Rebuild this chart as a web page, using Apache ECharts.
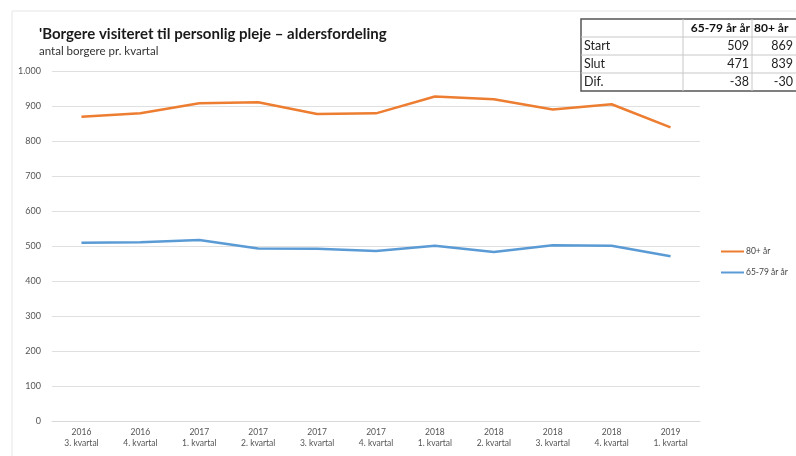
<!DOCTYPE html>
<html><head><meta charset="utf-8">
<script src="https://cdn.jsdelivr.net/npm/echarts@6/dist/echarts.min.js"></script>
<style>html,body{margin:0;padding:0;background:#fff}#c{width:796px;height:456px}</style>
</head><body><div id="c"></div>
<script>
var categories = ['2016\n3. kvartal','2016\n4. kvartal','2017\n1. kvartal','2017\n2. kvartal','2017\n3. kvartal','2017\n4. kvartal','2018\n1. kvartal','2018\n2. kvartal','2018\n3. kvartal','2018\n4. kvartal','2019\n1. kvartal'];
var series80 = [869, 879, 908, 911, 877, 879, 927, 919, 890, 905, 839];
var series65 = [509, 511, 517, 493, 492, 486, 501, 483, 502, 501, 471];
var tableHeader = ['', '65-79 år år', '80+ år'];
var tableRows = [['Start', '509', '869'], ['Slut', '471', '839'], ['Dif.', '-38', '-30']];

var FONT = 'Lato, "Open Sans", sans-serif';
var chart = echarts.init(document.getElementById('c'), null, {renderer:'canvas'});

var g = [];
// outer faint frame
g.push({type:'rect', shape:{x:12, y:11, width:800, height:460}, style:{fill:'none', stroke:'#e6e6e6', lineWidth:1}, silent:true});
// table
var tx = 581, ty = 19, rowH = 18, colX = [581, 683, 752, 812];
var nRows = tableRows.length + 1;
g.push({type:'rect', shape:{x:tx, y:ty, width:colX[3]-tx, height:rowH*nRows}, style:{fill:'#fff', stroke:'#555', lineWidth:1.5}, z:10});
for (var r=1; r<nRows; r++) {
  g.push({type:'line', shape:{x1:tx, y1:ty+r*rowH, x2:colX[3], y2:ty+r*rowH}, style:{stroke:'#c8c8c8', lineWidth:1}, z:11});
}
g.push({type:'line', shape:{x1:colX[1], y1:ty, x2:colX[1], y2:ty+rowH*nRows}, style:{stroke:'#c8c8c8', lineWidth:1}, z:11});
g.push({type:'line', shape:{x1:colX[2], y1:ty, x2:colX[2], y2:ty+rowH*nRows}, style:{stroke:'#c8c8c8', lineWidth:1}, z:11});
// header
g.push({type:'text', x:colX[2]-2, y:ty+rowH/2, style:{text:tableHeader[1], font:'bold 12px '+FONT, fill:'#111', align:'right', verticalAlign:'middle'}, z:12});
g.push({type:'text', x:colX[2]+2, y:ty+rowH/2, style:{text:tableHeader[2], font:'bold 12px '+FONT, fill:'#111', align:'left', verticalAlign:'middle'}, z:12});
tableRows.forEach(function(row, i){
  var cy = ty + (i+1)*rowH + rowH/2;
  g.push({type:'text', x:tx+3, y:cy, style:{text:row[0], font:'12.5px '+FONT, fill:'#222', align:'left', verticalAlign:'middle'}, z:12});
  g.push({type:'text', x:colX[2]-3, y:cy, style:{text:row[1], font:'12.5px '+FONT, fill:'#222', align:'right', verticalAlign:'middle'}, z:12});
  g.push({type:'text', x:793, y:cy, style:{text:row[2], font:'12.5px '+FONT, fill:'#222', align:'right', verticalAlign:'middle'}, z:12});
});

chart.setOption({
  backgroundColor:'#fff',
  animation:false,
  title:{
    text:"'Borgere visiteret til personlig pleje – aldersfordeling",
    subtext:'antal borgere pr. kvartal',
    left:34, top:22, itemGap:3,
    textStyle:{fontFamily:FONT, fontWeight:'bold', fontSize:15, color:'#1a1a1a'},
    subtextStyle:{fontFamily:FONT, fontSize:11.5, color:'#333'}
  },
  legend:{
    orient:'vertical', left:716, top:242, itemWidth:23, itemHeight:2, itemGap:12, icon:'rect', itemStyle:{borderWidth:0},
    textStyle:{fontFamily:FONT, fontSize:8.5, color:'#444', padding:[0,0,0,-3]},
    data:['80+ år','65-79 år år']
  },
  grid:{left:52, right:96, top:71, bottom:35},
  xAxis:{
    type:'category', data:categories, boundaryGap:true,
    axisLine:{lineStyle:{color:'#d9d9d9'}}, axisTick:{show:false},
    axisLabel:{fontFamily:FONT, fontSize:8.5, color:'#555', lineHeight:11, margin:6, interval:0}
  },
  yAxis:{
    type:'value', min:0, max:1000, interval:100,
    axisLine:{show:false}, axisTick:{show:false},
    splitLine:{lineStyle:{color:'#e0e0e0'}},
    axisLabel:{fontFamily:FONT, fontSize:9, color:'#555', margin:11,
      formatter:function(v){ return v>=1000 ? (Math.floor(v/1000)+'.'+('00'+(v%1000)).slice(-3)) : String(v); }}
  },
  series:[
    {name:'80+ år', type:'line', data:series80, symbol:'none', lineStyle:{color:'#ED7D31', width:2.5}, itemStyle:{color:'#ED7D31'}},
    {name:'65-79 år år', type:'line', data:series65, symbol:'none', lineStyle:{color:'#5B9BD5', width:2.5}, itemStyle:{color:'#5B9BD5'}}
  ],
  graphic:g
});
</script></body></html>
